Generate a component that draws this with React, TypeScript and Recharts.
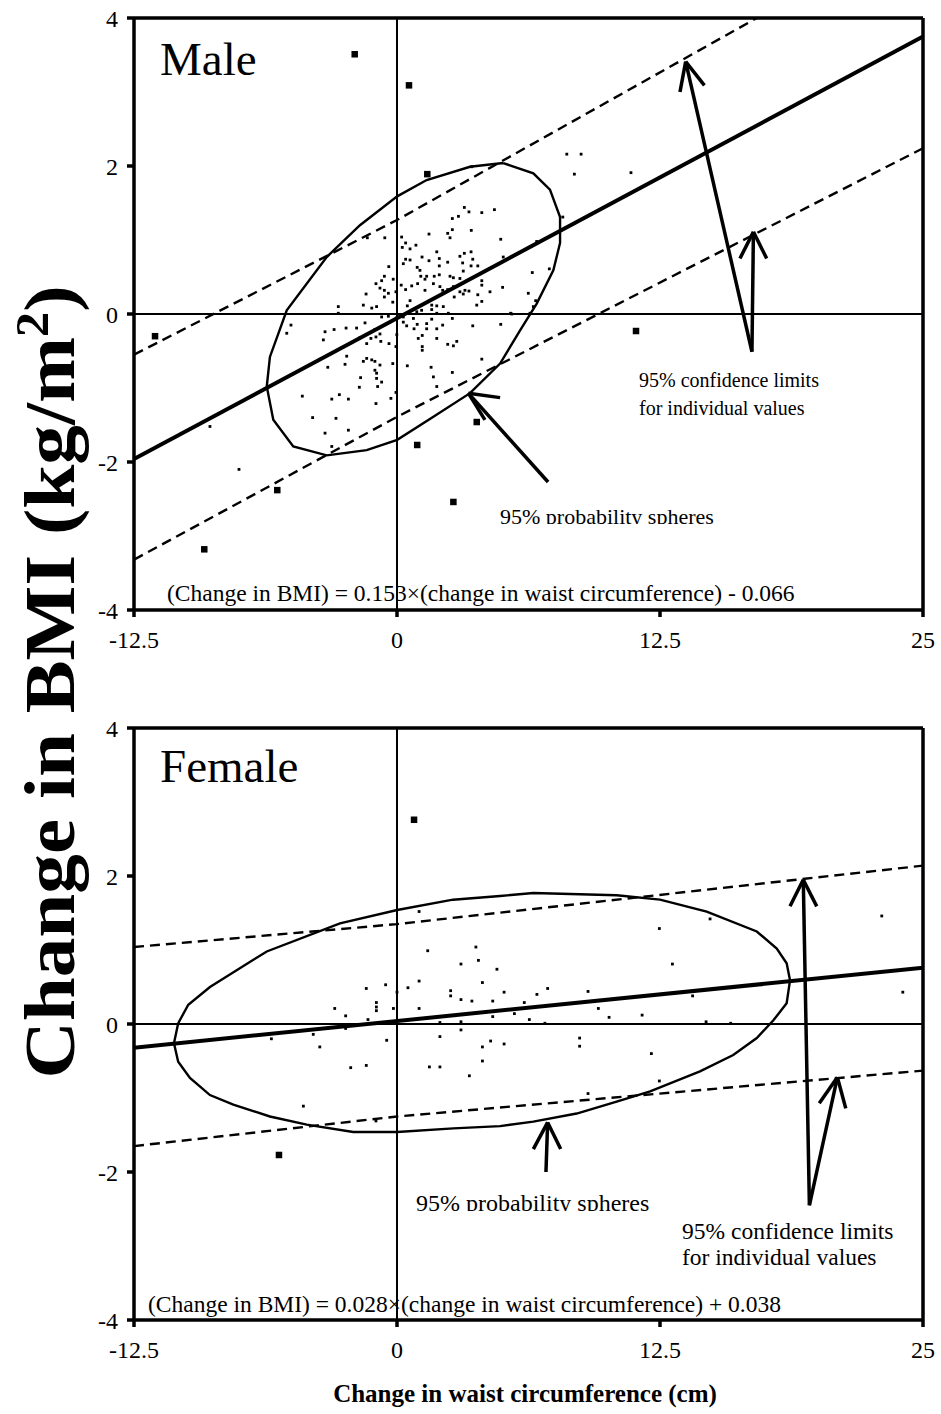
import React from 'react';
import { ScatterChart, Scatter, XAxis, YAxis, ReferenceLine } from 'recharts';

type Pt = [number, number];

const xTicks = [-12.5, 0, 12.5, 25];
const yTicks = [-4, -2, 0, 2, 4];

// Male panel
const maleDots: Pt[] = [
  [-0.58, 1.03], [-1.41, 1.03], [0.22, 1.04], [0.41, 0.96], [0.25, 0.9], [0.41, 0.74], [0.3, 0.68], [-0.39, 0.64],
  [-0.6, 0.51], [-0.18, 0.47], [-0.73, 0.45], [-1.0, 0.41], [-0.81, 0.35], [-0.6, 0.32], [-0.41, 0.28], [-0.05, 0.3],
  [0.2, 0.39], [0.41, 0.33], [-1.47, 0.27], [-0.6, 0.23], [-0.2, 0.16], [-1.6, 0.12], [-1.2, 0.08], [-0.97, 0.1],
  [-2.79, 0.1], [-2.79, 0.01], [-0.73, -0.04], [-0.41, -0.03], [-0.01, -0.05], [0.3, -0.11], [0.46, -0.16],
  [-5.04, -0.15], [-5.24, -0.26], [-3.42, -0.24], [-3.5, -0.35], [-2.99, -0.21], [-2.42, -0.19], [-1.92, -0.19],
  [-1.52, -0.12], [-1.05, -0.21], [-0.81, -0.27], [-1.76, -0.32], [-1.24, -0.33], [-1.0, -0.31], [-0.77, -0.37],
  [-0.38, -0.4], [-0.01, -0.28], [-0.05, -0.44], [-1.44, -0.4], [-2.39, -0.57], [-2.47, -0.68], [-3.29, -0.72],
  [-1.6, -0.64], [-1.44, -0.6], [-1.2, -0.62], [-1.05, -0.64], [-0.81, -0.69], [-1.05, -0.76], [-0.97, -0.8],
  [-0.2, -0.67], [0.49, -0.7], [-1.73, -0.86], [-0.97, -0.87], [-0.73, -0.92], [-1.79, -0.99], [-0.92, -0.98],
  [-4.5, -1.11], [-3.1, -1.15], [-2.74, -1.09], [-2.31, -1.15], [-1.0, -1.21], [-0.29, -1.14], [-0.05, -1.06],
  [-4.01, -1.4], [-2.9, -1.41], [-3.42, -1.61], [-2.31, -1.57], [-3.1, -1.79],
  [3.55, 1.99], [8.07, 2.16], [8.75, 2.16], [8.43, 1.89], [3.2, 1.44], [3.42, 1.38], [4.03, 1.37], [4.63, 1.41],
  [2.63, 1.29], [2.92, 1.32], [3.53, 1.13], [2.63, 1.14], [2.41, 1.09], [2.52, 1.03], [1.52, 1.08], [4.93, 1.01],
  [0.9, 0.93], [0.62, 0.88], [1.89, 0.84], [1.19, 0.77], [0.62, 0.73], [1.52, 0.72], [2.01, 0.75], [2.41, 0.7],
  [2.99, 0.78], [3.2, 0.82], [3.52, 0.84], [3.6, 0.74], [3.12, 0.69], [3.52, 0.65], [3.84, 0.65], [2.01, 0.65],
  [0.96, 0.63], [1.09, 0.59], [5.05, 0.77], [7.24, 0.61], [6.65, 0.96], [7.88, 1.31], [3.15, 0.58], [1.13, 0.51],
  [1.41, 0.51], [1.77, 0.51], [2.01, 0.53], [2.52, 0.51], [2.68, 0.49], [2.99, 0.48], [1.33, 0.47], [1.73, 0.41],
  [2.04, 0.37], [0.7, 0.38], [0.98, 0.41], [1.33, 0.32], [2.17, 0.32], [2.41, 0.33], [2.68, 0.37], [2.99, 0.3],
  [3.23, 0.32], [3.15, 0.27], [3.42, 0.31], [4.03, 0.45], [4.03, 0.39], [4.42, 0.3], [3.84, 0.26], [2.72, 0.23],
  [3.79, 0.12], [4.03, 0.17], [5.02, 0.36], [6.43, 0.56], [6.24, 0.28], [6.59, 0.18], [6.48, 0.1], [0.62, 0.18],
  [0.49, 0.11], [1.65, 0.12], [1.89, 0.11], [2.2, 0.1], [1.65, 0.06], [1.89, 0.01], [0.94, 0.03], [1.17, 0.05],
  [2.44, 0.01], [5.4, 0.01], [6.32, 0.01], [0.3, -0.04], [0.78, -0.06], [0.96, -0.14], [1.41, -0.13], [1.65, -0.07],
  [1.41, -0.2], [1.89, -0.2], [2.17, -0.15], [2.63, -0.06], [0.81, -0.2], [3.6, -0.16], [4.93, -0.14], [1.2, -0.29],
  [1.01, -0.33], [1.2, -0.44], [1.2, -0.49], [1.89, -0.33], [2.41, -0.41], [2.68, -0.43], [2.84, -0.37], [4.03, -0.61],
  [1.62, -0.72], [1.73, -0.85], [2.63, -0.79], [1.89, -0.98],
  [-8.89, -1.52], [-7.51, -2.1], [11.12, 1.91], [6.64, 0.98], [5.45, 0.0],
];
const maleOutliers: Pt[] = [
  [-2.01, 3.51], [0.57, 3.09], [1.44, 1.89], [-11.5, -0.3], [-5.69, -2.38], [-9.16, -3.18],
  [3.79, -1.46], [0.96, -1.77], [2.68, -2.54], [11.36, -0.23],
];
const maleFit: Pt[] = [[-12.5, -1.96], [25, 3.75]];
const maleUpper: Pt[] = [[-12.5, -0.55], [0, 1.27], [17.1, 4.0]];
const maleLower: Pt[] = [[-12.5, -3.32], [0, -1.39], [25, 2.24]];
const maleEllipse: Pt[] = [
  [5.05, 2.04], [6.48, 1.9], [7.27, 1.68], [7.75, 1.31], [7.75, 0.96], [7.43, 0.59], [6.64, 0.14], [5.85, -0.22],
  [4.9, -0.67], [3.47, -1.07], [1.73, -1.39], [0.01, -1.7], [-1.44, -1.84], [-3.34, -1.91], [-4.93, -1.79],
  [-5.88, -1.43], [-6.19, -0.98], [-6.04, -0.58], [-5.24, 0.05], [-3.34, 0.77], [-1.76, 1.2], [0.01, 1.59],
  [1.41, 1.81], [3.47, 1.99], [5.05, 2.04],
];
// arrows: tail, tip, wing, wing
const maleArrows: Pt[][] = [
  [[16.87, -0.51], [13.72, 3.41], [13.45, 3.0], [14.61, 3.09]],
  [[16.87, -0.51], [16.94, 1.11], [16.3, 0.75], [17.57, 0.75]],
  [[7.18, -2.27], [3.39, -1.07], [4.9, -1.13], [4.18, -1.43]],
];

// Female panel
const femaleDots: Pt[] = [
  [1.05, 1.52], [1.46, 0.99], [3.75, 1.04], [3.87, 0.86], [3.04, 0.81], [4.75, 0.74], [4.06, 0.56], [1.05, 0.58],
  [0.52, 0.49], [-0.54, 0.53], [-1.46, 0.48], [0.0, 0.43], [2.55, 0.45], [2.55, 0.38], [3.04, 0.33], [3.56, 0.31],
  [4.55, 0.31], [5.09, 0.43], [6.05, 0.29], [6.65, 0.4], [7.16, 0.48], [-0.98, 0.29], [-0.98, 0.23], [-0.98, 0.18],
  [-0.17, 0.21], [-2.96, 0.21], [-2.44, 0.11], [-1.38, 0.06], [1.05, 0.21], [4.55, 0.1], [5.58, 0.14], [6.29, 0.06],
  [2.04, 0.02], [3.04, 0.03], [3.04, -0.08], [2.04, -0.17], [-2.44, -0.06], [-3.98, -0.14], [-5.97, -0.2],
  [-3.67, -0.31], [-0.49, -0.22], [4.06, -0.31], [4.45, -0.23], [5.09, -0.27], [4.06, -0.5], [3.44, -0.7],
  [1.54, -0.58], [2.04, -0.58], [-2.2, -0.59], [-1.46, -0.56], [-4.45, -1.11], [-1.0, -1.31],
  [23.04, 1.46], [14.88, 1.42], [12.47, 1.29], [13.09, 0.81], [9.08, 0.44], [14.05, 0.38], [24.04, 0.43],
  [9.57, 0.21], [10.08, 0.09], [11.65, 0.12], [14.69, 0.03], [15.86, 0.01], [8.68, -0.19], [8.68, -0.3],
  [12.09, -0.4], [12.47, -0.77], [9.08, -0.94], [7.03, 0.01],
];
const femaleOutliers: Pt[] = [[0.81, 2.76], [-5.61, -1.77]];
const femaleFit: Pt[] = [[-12.5, -0.32], [25, 0.76]];
const femaleUpper: Pt[] = [[-12.5, 1.04], [0, 1.35], [25, 2.14]];
const femaleLower: Pt[] = [[-12.5, -1.65], [0, -1.25], [25, -0.63]];
const femaleEllipse: Pt[] = [
  [-10.4, 0.01], [-9.92, 0.26], [-8.89, 0.5], [-6.19, 0.98], [-2.71, 1.36], [0.01, 1.54], [2.66, 1.68], [4.9, 1.73],
  [6.48, 1.77], [10.44, 1.74], [12.5, 1.68], [14.72, 1.52], [17.1, 1.25], [18.05, 1.02], [18.52, 0.82], [18.68, 0.59],
  [18.52, 0.28], [17.89, 0.05], [17.1, -0.19], [15.98, -0.42], [14.4, -0.64], [12.03, -0.91], [10.44, -1.05],
  [8.54, -1.21], [6.48, -1.32], [4.9, -1.38], [2.68, -1.41], [0.01, -1.46], [-2.08, -1.46], [-4.29, -1.36],
  [-6.04, -1.25], [-7.78, -1.09], [-8.89, -0.96], [-9.84, -0.73], [-10.4, -0.51], [-10.6, -0.26], [-10.4, 0.01],
];
const femaleArrows: Pt[][] = [
  [[19.6, -2.45], [19.31, 1.95], [18.68, 1.59], [19.95, 1.59]],
  [[19.6, -2.45], [20.93, -0.72], [20.07, -1.07], [21.33, -1.14]],
  [[7.08, -2.0], [7.16, -1.33], [6.48, -1.69], [7.78, -1.69]],
];

const FONT = '"Liberation Serif", "Times New Roman", serif';
const toObj = (pts: Pt[]) => pts.map(([x, y]) => ({ x, y }));
const square = (size: number) => (p: any) => (
  <rect x={p.cx - size / 2} y={p.cy - size / 2} width={size} height={size} fill="#000" />
);
const noShape = () => <g />;

type PanelProps = {
  dots: Pt[]; outliers: Pt[]; fit: Pt[]; upper: Pt[]; lower: Pt[]; ellipse: Pt[]; arrows: Pt[][];
};

const Panel: React.FC<PanelProps> = ({ dots, outliers, fit, upper, lower, ellipse, arrows }) => {
  const tickStyle = { fontFamily: FONT, fontSize: 24, fill: '#000' };
  const axisStroke = { stroke: '#000', strokeWidth: 3.5 };
  const dashed = { stroke: '#000', strokeWidth: 2.4, strokeDasharray: '10 6' };
  return (
    <ScatterChart width={941} height={700} margin={{ top: 18, right: 18, bottom: 50, left: 94 }}>
      <XAxis type="number" dataKey="x" domain={[-12.5, 25]} ticks={xTicks} allowDataOverflow
        axisLine={axisStroke} tickLine={axisStroke} tickSize={7} tickMargin={14} height={40} tick={tickStyle} />
      <YAxis type="number" dataKey="y" domain={[-4, 4]} ticks={yTicks} allowDataOverflow
        axisLine={axisStroke} tickLine={axisStroke} tickSize={7} tickMargin={9} width={40} tick={tickStyle} />
      <ReferenceLine y={4} stroke="#000" strokeWidth={3.5} />
      <ReferenceLine x={25} stroke="#000" strokeWidth={3.5} />
      <ReferenceLine y={0} stroke="#000" strokeWidth={2} />
      <ReferenceLine x={0} stroke="#000" strokeWidth={2} />
      <Scatter data={toObj(ellipse)} line={{ stroke: '#000', strokeWidth: 2.4 }} shape={noShape} isAnimationActive={false} />
      <Scatter data={toObj(upper)} line={dashed} shape={noShape} isAnimationActive={false} />
      <Scatter data={toObj(lower)} line={dashed} shape={noShape} isAnimationActive={false} />
      <Scatter data={toObj(fit)} line={{ stroke: '#000', strokeWidth: 4 }} shape={noShape} isAnimationActive={false} />
      <Scatter data={toObj(dots)} shape={square(2.8)} isAnimationActive={false} />
      <Scatter data={toObj(outliers)} shape={square(6.5)} isAnimationActive={false} />
      {arrows.map((a, i) => (
        <React.Fragment key={i}>
          <ReferenceLine segment={[{ x: a[0][0], y: a[0][1] }, { x: a[1][0], y: a[1][1] }]} stroke="#000" strokeWidth={3.5} ifOverflow="visible" />
          <ReferenceLine segment={[{ x: a[2][0], y: a[2][1] }, { x: a[1][0], y: a[1][1] }]} stroke="#000" strokeWidth={3.5} ifOverflow="visible" />
          <ReferenceLine segment={[{ x: a[3][0], y: a[3][1] }, { x: a[1][0], y: a[1][1] }]} stroke="#000" strokeWidth={3.5} ifOverflow="visible" />
        </React.Fragment>
      ))}
    </ScatterChart>
  );
};

export default function App() {
  return (
    <div style={{ position: 'relative', width: 941, height: 1414, background: '#fff', fontFamily: FONT }}>
      <style>{'body{margin:0;background:#fff}'}</style>
      <div style={{ position: 'absolute', left: 0, top: 0 }}>
        <Panel dots={maleDots} outliers={maleOutliers} fit={maleFit} upper={maleUpper} lower={maleLower}
          ellipse={maleEllipse} arrows={maleArrows} />
      </div>
      <div style={{ position: 'absolute', left: 0, top: 710 }}>
        <Panel dots={femaleDots} outliers={femaleOutliers} fit={femaleFit} upper={femaleUpper} lower={femaleLower}
          ellipse={femaleEllipse} arrows={femaleArrows} />
      </div>
      <svg width={941} height={1414} style={{ position: 'absolute', left: 0, top: 0, pointerEvents: 'none' }}
        fontFamily={FONT} fill="#000">
        <defs>
          <clipPath id="clipMaleSph"><rect x={0} y={0} width={941} height={524} /></clipPath>
          <clipPath id="clipFemSph"><rect x={0} y={0} width={941} height={1211} /></clipPath>
        </defs>
        <text x={160} y={75} fontSize={47}>Male</text>
        <text x={160} y={782} fontSize={47}>Female</text>
        <text x={167} y={601} fontSize={23.5}>(Change in BMI) = 0.153×(change in waist circumference) - 0.066</text>
        <text x={148} y={1312} fontSize={23.5}>(Change in BMI) = 0.028×(change in waist circumference) + 0.038</text>
        <text x={639} y={387} fontSize={20}>95% confidence limits</text>
        <text x={639} y={415} fontSize={20}>for individual values</text>
        <text x={500} y={524} fontSize={22} clipPath="url(#clipMaleSph)">95% probability spheres</text>
        <text x={416} y={1211} fontSize={24} clipPath="url(#clipFemSph)">95% probability spheres</text>
        <text x={682} y={1239} fontSize={23.5}>95% confidence limits</text>
        <text x={682} y={1265} fontSize={23.5}>for individual values</text>
        <text x={525} y={1402} fontSize={25} fontWeight="bold" textAnchor="middle">Change in waist circumference (cm)</text>
        <g transform="translate(74,682) rotate(-90) scale(1.1,1)">
          <text x={0} y={0} fontSize={72} fontWeight="bold" textAnchor="middle">
            Change in BMI (kg/m<tspan dy={-26} fontSize={46}>2</tspan><tspan dy={26}>)</tspan>
          </text>
        </g>
      </svg>
    </div>
  );
}
